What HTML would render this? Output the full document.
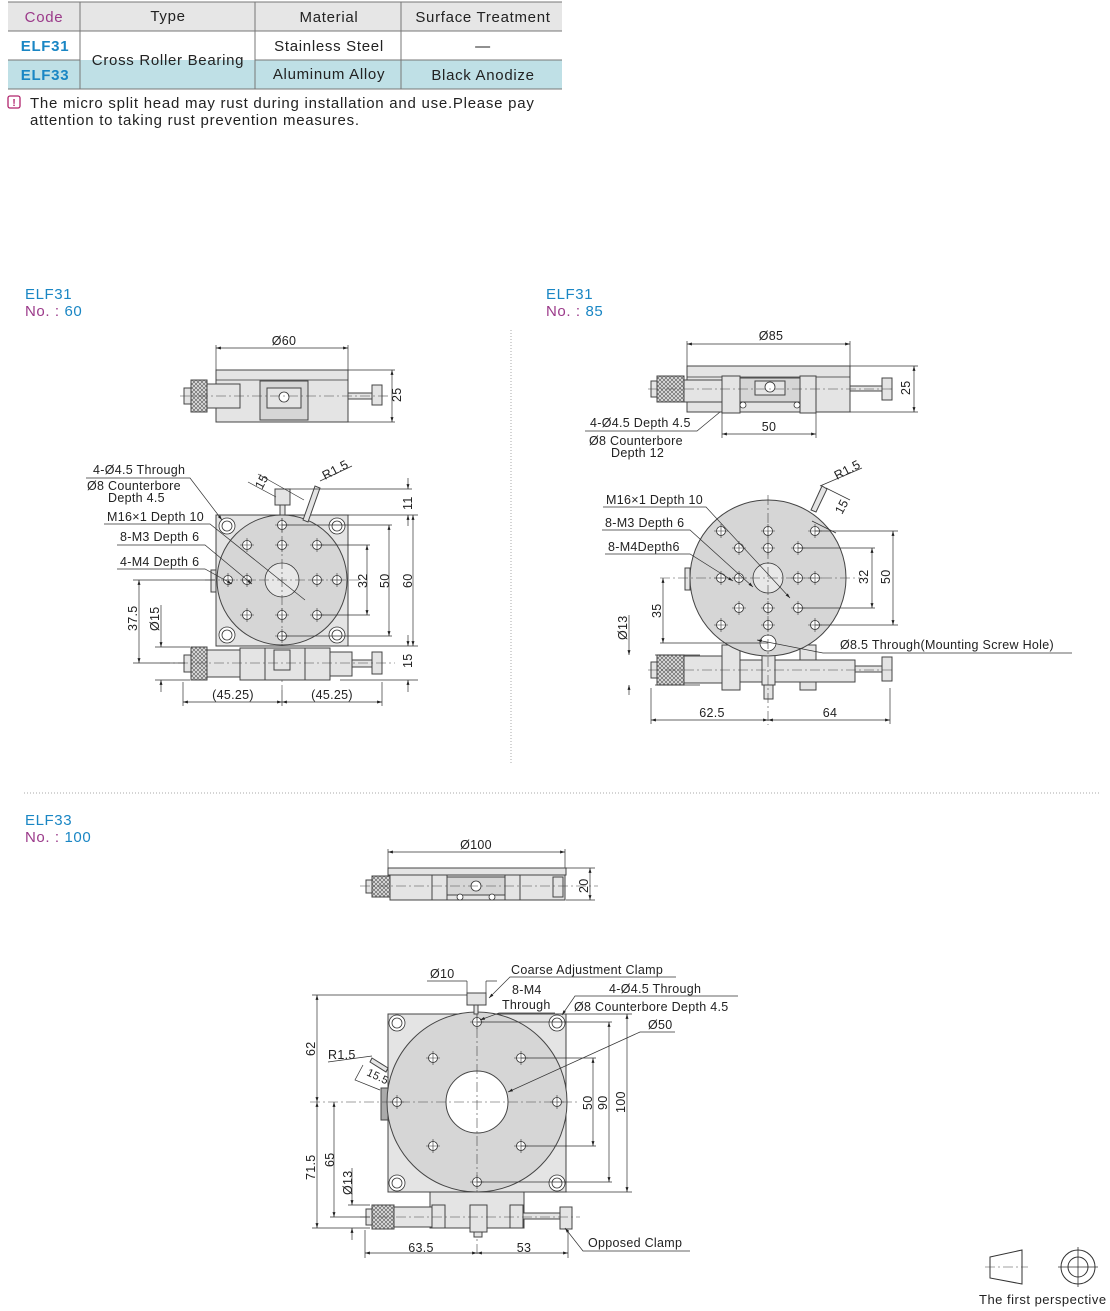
<!DOCTYPE html>
<html><head><meta charset="utf-8"><style>
html,body{margin:0;padding:0;background:#fff;}
body{width:1110px;height:1311px;position:relative;overflow:hidden;font-family:"Liberation Sans",sans-serif;}
svg{position:absolute;left:0;top:0;}
.t{font-family:"Liberation Sans",sans-serif;font-size:12.5px;fill:#222;letter-spacing:0.3px;}
.big{font-size:15px;letter-spacing:0.7px;}
.o{fill:#e4e4e4;stroke:#444;stroke-width:1;}
.d{fill:#d6d6d6;stroke:#444;stroke-width:1;}
.l{stroke:#333;stroke-width:.7;fill:none;}
.c{stroke:#444;stroke-width:.6;fill:none;stroke-dasharray:10 3 2 3;}
.k{fill:url(#kn);stroke:#444;stroke-width:1;}
.h{fill:#fff;stroke:#333;stroke-width:.8;}
</style></head><body>
<svg width="1110" height="1311" viewBox="0 0 1110 1311">
<defs>
<pattern id="kn" width="4" height="4" patternUnits="userSpaceOnUse"><rect width="4" height="4" fill="#ddd"/><path d="M0 0L4 4M4 0L0 4" stroke="#555" stroke-width=".6"/></pattern>
<marker id="a" viewBox="0 0 10 10" refX="10" refY="5" markerWidth="7" markerHeight="7" orient="auto-start-reverse"><path d="M0 2L10 5L0 8z" fill="#222"/></marker>
<g id="hole"><circle r="4.5" class="h"/><path d="M-7 0H7M0 -7V7" stroke="#333" stroke-width=".6"/></g>
<g id="cb"><circle r="8" class="h"/><circle r="5" class="h"/></g>
</defs>

<!-- TABLE -->
<rect x="8" y="2" width="554" height="29" fill="#e6e6e6"/>
<rect x="8" y="60" width="72" height="29" fill="#bfe0e6"/>
<rect x="80" y="60" width="175" height="29" fill="#bfe0e6"/>
<rect x="255" y="60" width="307" height="29" fill="#bfe0e6"/>
<path d="M8 2H562M8 31H562M8 60H80M255 60H562M8 89H562" stroke="#777" stroke-width="1"/>
<path d="M80 2V89M255 2V89M401 2V89" stroke="#777" stroke-width="1"/>
<text x="44" y="22" text-anchor="middle" class="t big" style="fill:#9b3a8a">Code</text>
<text x="168" y="21" text-anchor="middle" class="t big">Type</text>
<text x="329" y="22" text-anchor="middle" class="t big">Material</text>
<text x="483" y="22" text-anchor="middle" class="t big">Surface Treatment</text>
<text x="45" y="51" text-anchor="middle" class="t big" style="font-weight:bold;fill:#1a86c4">ELF31</text>
<text x="45" y="80" text-anchor="middle" class="t big" style="font-weight:bold;fill:#1a86c4">ELF33</text>
<text x="168" y="65" text-anchor="middle" class="t big">Cross Roller Bearing</text>
<text x="329" y="51" text-anchor="middle" class="t big">Stainless Steel</text>
<text x="483" y="51" text-anchor="middle" class="t big">—</text>
<text x="329" y="79" text-anchor="middle" class="t big">Aluminum Alloy</text>
<text x="483" y="80" text-anchor="middle" class="t big">Black Anodize</text>
<rect x="8" y="96" width="12" height="12" rx="2" fill="none" stroke="#b0246c" stroke-width="1.3"/>
<text x="14" y="106" text-anchor="middle" style="font:bold 10px 'Liberation Sans';fill:#b0246c">!</text>
<text x="30" y="108" class="t big" style="letter-spacing:0.75px">The micro split head may rust during installation and use.Please pay</text>
<text x="30" y="125" class="t big" style="letter-spacing:0.75px">attention to taking rust prevention measures.</text>

<!-- separators -->
<path d="M511 330V765" stroke="#aaa" stroke-width="1" stroke-dasharray="1 2"/>
<path d="M24 793H1100" stroke="#aaa" stroke-width="1" stroke-dasharray="1 2"/>

<!-- titles -->
<text x="25" y="299" class="t big" style="fill:#1a86c4;letter-spacing:0.6px">ELF31</text>
<text x="25" y="316" class="t big" style="fill:#9b3a8a;letter-spacing:0.6px">No. : <tspan style="fill:#1a86c4">60</tspan></text>
<text x="546" y="299" class="t big" style="fill:#1a86c4;letter-spacing:0.6px">ELF31</text>
<text x="546" y="316" class="t big" style="fill:#9b3a8a;letter-spacing:0.6px">No. : <tspan style="fill:#1a86c4">85</tspan></text>
<text x="25" y="825" class="t big" style="fill:#1a86c4;letter-spacing:0.6px">ELF33</text>
<text x="25" y="842" class="t big" style="fill:#9b3a8a;letter-spacing:0.6px">No. : <tspan style="fill:#1a86c4">100</tspan></text>

<!-- ===== DRAWING 1 ===== -->
<path class="l" d="M216 345V370M348 345V370"/>
<path class="l" d="M216 348H348" marker-start="url(#a)" marker-end="url(#a)"/>
<text x="284" y="345" text-anchor="middle" class="t">Ø60</text>
<rect x="216" y="370" width="132" height="52" class="o"/>
<path class="l" d="M216 380H348"/>
<rect x="260" y="381" width="48" height="39" class="d"/>
<rect x="267" y="388" width="34" height="20" class="o"/>
<circle cx="284" cy="397" r="5" class="h"/>
<rect x="207" y="384" width="33" height="24" class="o"/>
<rect x="191" y="380" width="16" height="32" class="k"/>
<rect x="184" y="388" width="7" height="16" class="o"/>
<rect x="348" y="393" width="24" height="6" class="o"/>
<rect x="372" y="385" width="10" height="20" class="o"/>
<path class="c" d="M180 396H390"/>
<path class="l" d="M348 370H395M348 422H395"/>
<path class="l" d="M392 370V422" marker-start="url(#a)" marker-end="url(#a)"/>
<text x="0" y="0" class="t" transform="translate(401 402) rotate(-90)">25</text>

<rect x="216" y="515" width="132" height="131" class="o"/>
<rect x="211" y="570" width="5" height="22" class="o"/>
<circle cx="282" cy="580" r="65" class="d"/>
<circle cx="282" cy="580" r="17" class="h" style="fill:#e8e8e8"/>
<use href="#cb" x="227" y="526"/><use href="#cb" x="337" y="526"/><use href="#cb" x="227" y="635"/><use href="#cb" x="337" y="635"/>
<use href="#hole" x="282" y="525"/><use href="#hole" x="282" y="636"/><use href="#hole" x="228" y="580"/><use href="#hole" x="337" y="580"/>
<use href="#hole" x="247" y="545"/><use href="#hole" x="282" y="545"/><use href="#hole" x="317" y="545"/>
<use href="#hole" x="247" y="580"/><use href="#hole" x="317" y="580"/>
<use href="#hole" x="247" y="615"/><use href="#hole" x="282" y="615"/><use href="#hole" x="317" y="615"/>
<path class="c" d="M205 580H360M282 505V690"/>
<rect x="275" y="489" width="15" height="16" class="o"/>
<rect x="280" y="505" width="5" height="10" class="o"/>
<path d="M303 520L315 486L320 488L308 522z" class="o"/>
<!-- bottom micrometer -->
<rect x="240" y="648" width="90" height="32" class="o"/>
<rect x="265" y="648" width="40" height="32" class="o"/>
<rect x="274" y="650" width="16" height="20" class="o"/>
<rect x="207" y="650" width="33" height="27" class="o"/>
<rect x="191" y="647" width="16" height="33" class="k"/>
<rect x="184" y="655" width="7" height="17" class="o"/>
<rect x="330" y="652" width="22" height="24" class="o"/>
<rect x="352" y="660" width="20" height="7" class="o"/>
<rect x="372" y="652" width="10" height="22" class="o"/>
<path class="c" d="M160 663H395"/>
<!-- dims 1 -->
<path class="l" d="M290 489H412M348 515H418M282 525H392M317 545H370M317 615H370M282 636H392M348 646H418M340 680H418"/>
<path class="l" d="M408 478V489" marker-end="url(#a)"/><path class="l" d="M408 526V515" marker-end="url(#a)"/>
<text class="t" transform="translate(412 510) rotate(-90)">11</text>
<path class="l" d="M413 515V646" marker-start="url(#a)" marker-end="url(#a)"/>
<text class="t" transform="translate(412 588) rotate(-90)">60</text>
<path class="l" d="M389 525V636" marker-start="url(#a)" marker-end="url(#a)"/>
<text class="t" transform="translate(389 588) rotate(-90)">50</text>
<path class="l" d="M367 545V615" marker-start="url(#a)" marker-end="url(#a)"/>
<text class="t" transform="translate(367 588) rotate(-90)">32</text>
<path class="l" d="M408 635V646" marker-end="url(#a)"/><path class="l" d="M408 692V680" marker-end="url(#a)"/>
<text class="t" transform="translate(412 668) rotate(-90)">15</text>
<path class="l" d="M133 580H215M133 663H185M155 647H190M155 680H190"/>
<path class="l" d="M139 580V663" marker-start="url(#a)" marker-end="url(#a)"/>
<text class="t" transform="translate(137 631) rotate(-90)">37.5</text>
<path class="l" d="M161 605V647" marker-end="url(#a)"/><path class="l" d="M161 692V680" marker-end="url(#a)"/>
<text class="t" transform="translate(159 631) rotate(-90)">Ø15</text>
<path class="l" d="M183 682V706M382 682V706M282 690V706"/>
<path class="l" d="M183 702H282" marker-start="url(#a)" marker-end="url(#a)"/>
<path class="l" d="M282 702H382" marker-start="url(#a)" marker-end="url(#a)"/>
<text x="233" y="699" text-anchor="middle" class="t">(45.25)</text>
<text x="332" y="699" text-anchor="middle" class="t">(45.25)</text>
<!-- labels 1 -->
<text x="93" y="474" class="t">4-Ø4.5 Through</text>
<text x="87" y="490" class="t">Ø8 Counterbore</text>
<text x="108" y="502" class="t">Depth 4.5</text>
<path class="l" d="M86 478H190L222 520" marker-end="url(#a)"/>
<text x="107" y="521" class="t">M16×1 Depth 10</text>
<path class="l" d="M104 524H210L305 600"/>
<text x="120" y="541" class="t">8-M3 Depth 6</text>
<path class="l" d="M117 545H205L252 584" marker-end="url(#a)"/>
<text x="120" y="566" class="t">4-M4 Depth 6</text>
<path class="l" d="M117 569H205L232 584" marker-end="url(#a)"/>
<path class="l" d="M248 482L276 497M258 474L304 500M320 481L352 466"/>
<text class="t" transform="translate(262 490) rotate(-62)">15</text>
<text class="t" transform="translate(325 480) rotate(-28)">R1.5</text>

<!-- ===== DRAWING 2 ===== -->
<path class="l" d="M687 341V366M850 341V366"/>
<path class="l" d="M687 344H850" marker-start="url(#a)" marker-end="url(#a)"/>
<text x="771" y="340" text-anchor="middle" class="t">Ø85</text>
<rect x="687" y="366" width="163" height="46" class="o"/>
<path class="l" d="M687 377H850"/>
<rect x="740" y="378" width="60" height="24" class="d"/>
<rect x="755" y="381" width="30" height="14" class="o"/>
<circle cx="770" cy="387" r="5" class="h"/>
<rect x="722" y="376" width="18" height="37" class="o"/>
<rect x="800" y="376" width="16" height="37" class="o"/>
<circle cx="743" cy="405" r="3" class="h"/><circle cx="797" cy="405" r="3" class="h"/>
<rect x="684" y="380" width="38" height="22" class="o"/>
<rect x="657" y="376" width="27" height="26" class="k"/>
<rect x="651" y="381" width="6" height="16" class="o"/>
<rect x="850" y="386" width="32" height="5" class="o"/>
<rect x="882" y="378" width="10" height="22" class="o"/>
<path class="c" d="M648 389H895"/>
<path class="l" d="M850 366H918M850 412H918"/>
<path class="l" d="M914 366V412" marker-start="url(#a)" marker-end="url(#a)"/>
<text class="t" transform="translate(910 395) rotate(-90)">25</text>
<path class="l" d="M722 413V438M816 413V438"/>
<path class="l" d="M722 434H816" marker-start="url(#a)" marker-end="url(#a)"/>
<text x="769" y="431" text-anchor="middle" class="t">50</text>
<text x="590" y="427" class="t">4-Ø4.5 Depth 4.5</text>
<path class="l" d="M585 431H697L720 412"/>
<text x="589" y="445" class="t">Ø8 Counterbore</text>
<text x="611" y="457" class="t">Depth 12</text>

<rect x="722" y="645" width="18" height="45" class="o"/>
<rect x="800" y="645" width="16" height="45" class="o"/>
<rect x="684" y="656" width="38" height="27" class="o"/>
<rect x="657" y="655" width="27" height="30" class="k"/>
<rect x="651" y="662" width="6" height="16" class="o"/>
<rect x="740" y="660" width="115" height="22" class="o"/>
<rect x="762" y="655" width="13" height="30" class="o"/>
<rect x="764" y="685" width="9" height="14" class="o"/>
<rect x="855" y="666" width="27" height="6" class="o"/>
<rect x="882" y="657" width="10" height="24" class="o"/>
<rect x="685" y="568" width="5" height="22" class="o"/>
<circle cx="768" cy="578" r="78" class="d"/>
<circle cx="768" cy="643" r="8" class="h"/>
<circle cx="768" cy="578" r="15" class="h" style="fill:#e8e8e8"/>
<use href="#hole" x="721" y="531"/><use href="#hole" x="768" y="531"/><use href="#hole" x="815" y="531"/>
<use href="#hole" x="721" y="578"/><use href="#hole" x="815" y="578"/>
<use href="#hole" x="721" y="625"/><use href="#hole" x="768" y="625"/><use href="#hole" x="815" y="625"/>
<use href="#hole" x="739" y="548"/><use href="#hole" x="768" y="548"/><use href="#hole" x="798" y="548"/>
<use href="#hole" x="739" y="578"/><use href="#hole" x="798" y="578"/>
<use href="#hole" x="739" y="608"/><use href="#hole" x="768" y="608"/><use href="#hole" x="798" y="608"/>
<path class="c" d="M660 578H860M768 495V725M648 670H895"/>
<path d="M811 510L822 486L827 489L816 512z" class="o"/>
<path class="l" d="M815 531H898M798 548H875M798 608H875M815 625H898M660 643H768M655 655H700M655 685H700"/>
<path class="l" d="M893 531V625" marker-start="url(#a)" marker-end="url(#a)"/>
<text class="t" transform="translate(890 584) rotate(-90)">50</text>
<path class="l" d="M872 548V608" marker-start="url(#a)" marker-end="url(#a)"/>
<text class="t" transform="translate(868 584) rotate(-90)">32</text>
<path class="l" d="M663 578V643" marker-start="url(#a)" marker-end="url(#a)"/>
<text class="t" transform="translate(661 618) rotate(-90)">35</text>
<path class="l" d="M629 615V655" marker-end="url(#a)"/><path class="l" d="M629 695V685" marker-end="url(#a)"/>
<text class="t" transform="translate(627 640) rotate(-90)">Ø13</text>
<path class="l" d="M651 688V724M890 688V724"/>
<path class="l" d="M651 720H768" marker-start="url(#a)" marker-end="url(#a)"/>
<path class="l" d="M768 720H890" marker-start="url(#a)" marker-end="url(#a)"/>
<text x="712" y="717" text-anchor="middle" class="t">62.5</text>
<text x="830" y="717" text-anchor="middle" class="t">64</text>
<text x="606" y="504" class="t">M16×1 Depth 10</text>
<path class="l" d="M603 507H706L790 598" marker-end="url(#a)"/>
<text x="605" y="527" class="t">8-M3 Depth 6</text>
<path class="l" d="M602 530H690L753 587" marker-end="url(#a)"/>
<text x="608" y="551" class="t">8-M4Depth6</text>
<path class="l" d="M605 554H690L733 581" marker-end="url(#a)"/>
<text x="840" y="649" class="t">Ø8.5 Through(Mounting Screw Hole)</text>
<path class="l" d="M1072 653H823L757 640" marker-end="url(#a)"/>
<path class="l" d="M820 486L862 468M826 488L850 500M812 521L836 533"/>
<text class="t" transform="translate(837 480) rotate(-28)">R1.5</text>
<text class="t" transform="translate(842 515) rotate(-62)">15</text>

<!-- ===== DRAWING 3 ===== -->
<path class="l" d="M388 849V868M565 849V868"/>
<path class="l" d="M388 852H565" marker-start="url(#a)" marker-end="url(#a)"/>
<text x="476" y="849" text-anchor="middle" class="t">Ø100</text>
<rect x="388" y="868" width="178" height="7" class="o"/>
<rect x="390" y="875" width="175" height="25" class="o"/>
<rect x="447" y="877" width="58" height="18" class="d"/>
<circle cx="476" cy="886" r="5" class="h"/>
<rect x="432" y="875" width="15" height="25" class="o"/>
<rect x="505" y="875" width="15" height="25" class="o"/>
<circle cx="460" cy="897" r="3" class="h"/><circle cx="492" cy="897" r="3" class="h"/>
<rect x="372" y="876" width="18" height="21" class="k"/>
<rect x="366" y="880" width="6" height="13" class="o"/>
<rect x="553" y="877" width="10" height="20" class="o"/>
<path class="c" d="M360 886H598"/>
<path class="l" d="M566 868H595M566 900H595"/>
<path class="l" d="M590 868V900" marker-start="url(#a)" marker-end="url(#a)"/>
<text class="t" transform="translate(588 893) rotate(-90)">20</text>

<rect x="388" y="1014" width="178" height="178" class="o"/>
<rect x="381" y="1088" width="7" height="32" class="o" style="fill:#aaa"/>
<circle cx="477" cy="1102" r="90" class="d"/>
<circle cx="477" cy="1102" r="31" fill="#fff" stroke="#444"/>
<use href="#cb" x="397" y="1023"/><use href="#cb" x="557" y="1023"/><use href="#cb" x="397" y="1183"/><use href="#cb" x="557" y="1183"/>
<use href="#hole" x="477" y="1022"/><use href="#hole" x="477" y="1182"/><use href="#hole" x="397" y="1102"/><use href="#hole" x="557" y="1102"/>
<use href="#hole" x="433" y="1058"/><use href="#hole" x="521" y="1058"/><use href="#hole" x="433" y="1146"/><use href="#hole" x="521" y="1146"/>
<path class="c" d="M310 1102H580M477 1010V1255"/>
<rect x="467" y="993" width="19" height="12" class="o"/>
<rect x="474" y="1005" width="4" height="9" class="o"/>
<path d="M372 1058L388 1068L386 1072L370 1062z" class="o"/>
<rect x="430" y="1192" width="94" height="36" class="o"/>
<rect x="432" y="1205" width="13" height="23" class="o"/>
<rect x="510" y="1205" width="13" height="23" class="o"/>
<rect x="394" y="1207" width="38" height="20" class="o"/>
<rect x="372" y="1205" width="22" height="24" class="k"/>
<rect x="366" y="1209" width="6" height="16" class="o"/>
<rect x="470" y="1205" width="17" height="27" class="o"/>
<rect x="474" y="1232" width="8" height="5" class="o"/>
<rect x="523" y="1213" width="37" height="6" class="o"/>
<rect x="560" y="1207" width="12" height="22" class="o"/>
<path class="c" d="M360 1217H580"/>
<!-- dims 3 -->
<path class="l" d="M312 995H467M566 1014H632M477 1022H612M521 1058H596M521 1146H596M477 1182H612M566 1192H632M312 1228H370M330 1217H370M348 1205H370"/>
<path class="l" d="M317 995V1102" marker-start="url(#a)" marker-end="url(#a)"/>
<text class="t" transform="translate(315 1056) rotate(-90)">62</text>
<path class="l" d="M317 1102V1228" marker-start="url(#a)" marker-end="url(#a)"/>
<text class="t" transform="translate(315 1180) rotate(-90)">71.5</text>
<path class="l" d="M334 1102V1217" marker-start="url(#a)" marker-end="url(#a)"/>
<text class="t" transform="translate(334 1167) rotate(-90)">65</text>
<path class="l" d="M352 1168V1205" marker-end="url(#a)"/><path class="l" d="M352 1240V1228" marker-end="url(#a)"/>
<text class="t" transform="translate(352 1195) rotate(-90)">Ø13</text>
<path class="l" d="M593 1058V1146" marker-start="url(#a)" marker-end="url(#a)"/>
<text class="t" transform="translate(592 1110) rotate(-90)">50</text>
<path class="l" d="M609 1022V1182" marker-start="url(#a)" marker-end="url(#a)"/>
<text class="t" transform="translate(607 1110) rotate(-90)">90</text>
<path class="l" d="M627 1014V1192" marker-start="url(#a)" marker-end="url(#a)"/>
<text class="t" transform="translate(625 1113) rotate(-90)">100</text>
<path class="l" d="M365 1230V1258M568 1230V1258"/>
<path class="l" d="M365 1253H477" marker-start="url(#a)" marker-end="url(#a)"/>
<path class="l" d="M477 1253H568" marker-start="url(#a)" marker-end="url(#a)"/>
<text x="421" y="1252" text-anchor="middle" class="t">63.5</text>
<text x="524" y="1252" text-anchor="middle" class="t">53</text>
<!-- labels 3 -->
<text x="430" y="978" class="t">Ø10</text>
<path class="l" d="M427 981H467M486 981H497M467 981V993M486 981V993"/>
<text x="511" y="974" class="t">Coarse Adjustment Clamp</text>
<path class="l" d="M676 977H510L489 998" marker-end="url(#a)"/>
<text x="512" y="994" class="t">8-M4</text>
<text x="502" y="1009" class="t">Through</text>
<path class="l" d="M555 1013H499L480 1020" marker-end="url(#a)"/>
<text x="609" y="993" class="t">4-Ø4.5 Through</text>
<text x="574" y="1011" class="t">Ø8 Counterbore Depth 4.5</text>
<path class="l" d="M738 996H575L562 1015" marker-end="url(#a)"/>
<text x="648" y="1029" class="t">Ø50</text>
<path class="l" d="M675 1032H640L508 1092" marker-end="url(#a)"/>
<text x="328" y="1059" class="t">R1.5</text>
<path class="l" d="M328 1062L372 1056M363 1065L355 1080L380 1090"/>
<text class="t" style="font-size:11px" transform="translate(366 1075) rotate(25)">15.5</text>
<text x="588" y="1247" class="t">Opposed Clamp</text>
<path class="l" d="M690 1251H583L565 1228" marker-end="url(#a)"/>

<!-- perspective icon -->
<path d="M990 1257L1022 1250V1284L990 1278z" fill="none" stroke="#333" stroke-width="1"/>
<path class="c" d="M985 1267H1028"/>
<circle cx="1078" cy="1267" r="17" fill="none" stroke="#333"/>
<circle cx="1078" cy="1267" r="10" fill="none" stroke="#333"/>
<path d="M1058 1267H1098M1078 1247V1287" stroke="#333" stroke-width=".8"/>
<text x="979" y="1304" class="t" style="font-size:13px;letter-spacing:0.5px">The first perspective</text>
</svg>
</body></html>
